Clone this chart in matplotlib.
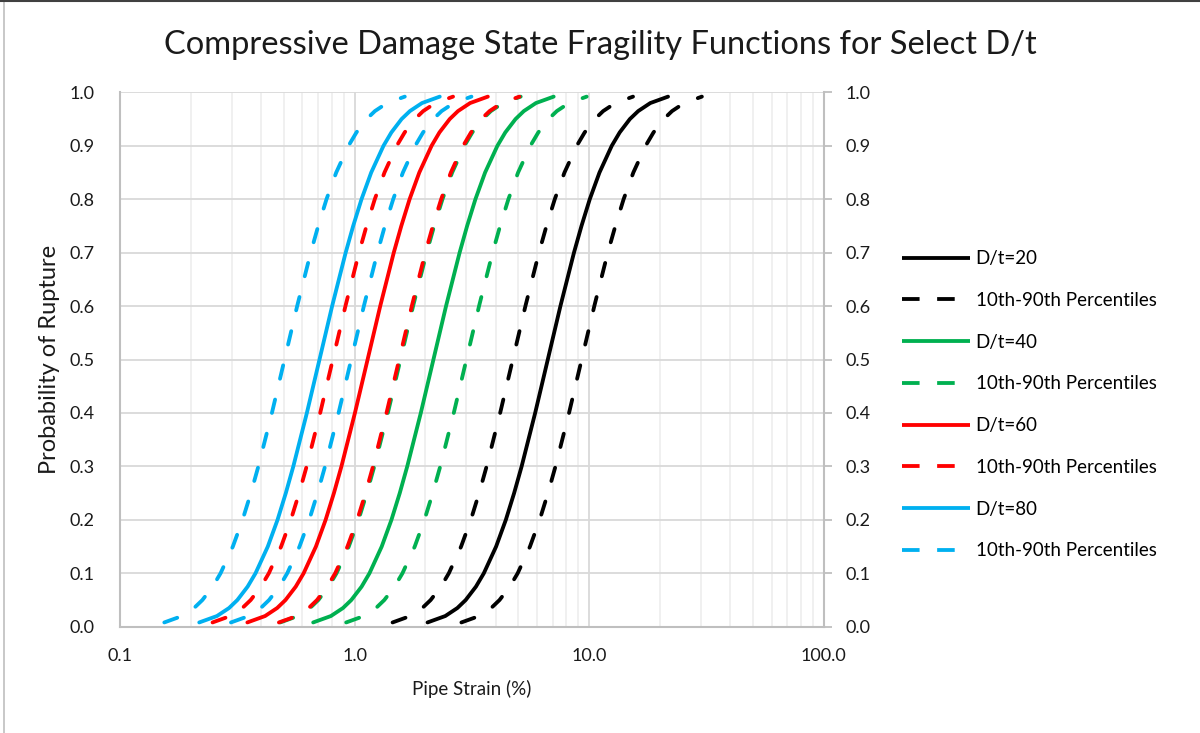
import matplotlib.pyplot as plt
from matplotlib.ticker import FixedLocator, FuncFormatter, NullFormatter, LogLocator
from matplotlib.lines import Line2D

plt.rcParams['font.family'] = ['Lato', 'DejaVu Sans']

# probability levels the strains were read at
prob = [0.008, 0.02, 0.035, 0.05, 0.075, 0.1, 0.15, 0.2, 0.25, 0.3, 0.4, 0.5,
        0.6, 0.7, 0.75, 0.8, 0.85, 0.9, 0.925, 0.95, 0.965, 0.98, 0.992]

# pipe strain (%) at each probability level
dt20 = [2.048, 2.438, 2.745, 2.979, 3.294, 3.559, 4.015, 4.418, 4.792, 5.159, 5.892, 6.67,
        7.550, 8.624, 9.285, 10.07, 11.08, 12.50, 13.51, 14.93, 16.21, 18.25, 21.72]
dt20_lo = [1.453, 1.729, 1.946, 2.112, 2.336, 2.524, 2.847, 3.133, 3.398, 3.658, 4.178, 4.73,
           5.354, 6.116, 6.584, 7.142, 7.857, 8.864, 9.578, 10.59, 11.49, 12.94, 15.40]
dt20_hi = [2.856, 3.399, 3.827, 4.153, 4.592, 4.962, 5.599, 6.159, 6.681, 7.193, 8.216, 9.3,
           10.53, 12.02, 12.95, 14.04, 15.45, 17.43, 18.83, 20.82, 22.60, 25.44, 30.28]

dt40 = [0.6664, 0.7931, 0.8930, 0.9691, 1.072, 1.158, 1.306, 1.437, 1.559, 1.678, 1.917, 2.17,
        2.456, 2.806, 3.021, 3.277, 3.604, 4.067, 4.394, 4.859, 5.273, 5.937, 7.066]
dt40_lo = [0.4821, 0.5738, 0.6461, 0.7012, 0.7753, 0.8378, 0.9451, 1.040, 1.128, 1.214, 1.387, 1.57,
           1.777, 2.030, 2.185, 2.371, 2.608, 2.942, 3.179, 3.515, 3.815, 4.296, 5.112]
dt40_hi = [0.9213, 1.097, 1.235, 1.340, 1.481, 1.601, 1.806, 1.987, 2.155, 2.320, 2.650, 3.0,
           3.396, 3.879, 4.176, 4.530, 4.983, 5.622, 6.075, 6.717, 7.290, 8.208, 9.768]

dt60 = [0.3492, 0.4156, 0.4679, 0.5078, 0.5615, 0.6067, 0.6845, 0.7530, 0.8168, 0.8794, 1.004, 1.137,
        1.287, 1.470, 1.583, 1.717, 1.889, 2.131, 2.302, 2.546, 2.763, 3.111, 3.702]
dt60_lo = [0.2481, 0.2953, 0.3325, 0.3609, 0.3990, 0.4311, 0.4864, 0.5351, 0.5805, 0.6249, 0.7138, 0.808,
           0.9147, 1.045, 1.125, 1.220, 1.342, 1.514, 1.636, 1.809, 1.963, 2.211, 2.631]
dt60_hi = [0.4760, 0.5665, 0.6378, 0.6922, 0.7654, 0.8271, 0.9331, 1.027, 1.114, 1.199, 1.369, 1.55,
           1.755, 2.004, 2.158, 2.341, 2.575, 2.905, 3.139, 3.470, 3.767, 4.241, 5.047]

dt80 = [0.2177, 0.2591, 0.2918, 0.3166, 0.3501, 0.3783, 0.4268, 0.4696, 0.5093, 0.5483, 0.6263, 0.709,
        0.8026, 0.9167, 0.9869, 1.071, 1.178, 1.329, 1.436, 1.587, 1.723, 1.940, 2.309]
dt80_lo = [0.1545, 0.1838, 0.2070, 0.2246, 0.2484, 0.2684, 0.3028, 0.3331, 0.3614, 0.3890, 0.4444, 0.503,
           0.5694, 0.6504, 0.7002, 0.7595, 0.8355, 0.9426, 1.019, 1.126, 1.222, 1.376, 1.638]
dt80_hi = [0.2973, 0.3538, 0.3983, 0.4323, 0.4780, 0.5165, 0.5827, 0.6411, 0.6954, 0.7487, 0.8551, 0.968,
           1.096, 1.252, 1.347, 1.462, 1.608, 1.814, 1.960, 2.167, 2.352, 2.648, 3.152]

labels = ["D/t=20", "D/t=40", "D/t=60", "D/t=80"]
colors = ["#000000", "#00B050", "#FF0000", "#00B0F0"]
series = [(dt20, dt20_lo, dt20_hi), (dt40, dt40_lo, dt40_hi),
          (dt60, dt60_lo, dt60_hi), (dt80, dt80_lo, dt80_hi)]

LW = 2.75
DASH = (3.6, 5.6)
TXT = "#1a1a1a"

fig = plt.figure(figsize=(12, 7.33), dpi=100)
ax = fig.add_axes([0.1, 0.145, 0.5863, 0.729])

handles = []
for lab, col, (mid, lo, hi) in zip(labels, colors, series):
    ax.plot(mid, prob, color=col, lw=LW, solid_capstyle='round',
            solid_joinstyle='round', zorder=3)
    for s in (lo, hi):
        ax.plot(s, prob, color=col, lw=LW, dashes=DASH,
                dash_capstyle='round', dash_joinstyle='round', zorder=3)
    handles.append(Line2D([], [], color=col, lw=LW, solid_capstyle='butt', label=lab))
    handles.append(Line2D([], [], color=col, lw=LW, dashes=(4.6, 4.6),
                          dash_capstyle='butt', label="10th-90th Percentiles"))

ax.set_xscale('log')
ax.set_xlim(0.1, 100)
ax.set_ylim(0, 1)

ax.xaxis.set_major_locator(FixedLocator([0.1, 1, 10, 100]))
ax.xaxis.set_major_formatter(FuncFormatter(lambda v, p: f"{v:.1f}"))
ax.xaxis.set_minor_locator(LogLocator(base=10, subs=range(2, 10)))
ax.xaxis.set_minor_formatter(NullFormatter())
ax.yaxis.set_major_locator(FixedLocator([i / 10 for i in range(11)]))
ax.yaxis.set_major_formatter(FuncFormatter(lambda v, p: f"{v:.1f}"))

ax.grid(True, which='major', color='#d9d9d9', lw=1.3, zorder=0)
ax.grid(True, which='minor', axis='x', color='#efefef', lw=1.3, zorder=0)
ax.set_axisbelow(True)

for side in ('top', 'right'):
    ax.spines[side].set_visible(False)
for side in ('left', 'bottom'):
    ax.spines[side].set_color('#bfbfbf')
    ax.spines[side].set_linewidth(1.5)

ax.tick_params(axis='both', which='both', length=0, labelsize=13, colors=TXT)
ax.tick_params(axis='y', pad=18)
ax.tick_params(axis='x', pad=15)

# secondary probability axis on the right
ax2 = ax.twinx()
ax2.set_ylim(0, 1)
ax2.yaxis.set_major_locator(FixedLocator([i / 10 for i in range(11)]))
ax2.yaxis.set_major_formatter(FuncFormatter(lambda v, p: f"{v:.1f}"))
for side in ('top', 'left', 'bottom'):
    ax2.spines[side].set_visible(False)
ax2.spines['right'].set_color('#bfbfbf')
ax2.spines['right'].set_linewidth(1.5)
ax2.tick_params(axis='y', direction='out', length=6, width=1.3, color='#bfbfbf',
                labelsize=13, labelcolor=TXT, pad=10)

ax.set_xlabel("Pipe Strain (%)", fontsize=13.5, color=TXT, labelpad=12)
ax.set_ylabel("Probability of Rupture", fontsize=17, color=TXT, labelpad=7)

fig.text(0.5, 0.939, "Compressive Damage State Fragility Functions for Select D/t",
         ha='center', va='center', fontsize=23.5, color=TXT)

fig.legend(handles=handles, loc='upper left', bbox_to_anchor=(0.745, 0.669),
           frameon=False, fontsize=13.5, handlelength=3.65, handletextpad=0.3,
           labelspacing=1.32, borderaxespad=0)

# chart frame
fig.add_artist(Line2D([0.003, 0.003], [0, 1], transform=fig.transFigure,
                      color='#bfbfbf', lw=1.2))
fig.add_artist(Line2D([0, 1], [0.999, 0.999], transform=fig.transFigure,
                      color='#404040', lw=1.5))

fig.savefig("out.png", dpi=100)
